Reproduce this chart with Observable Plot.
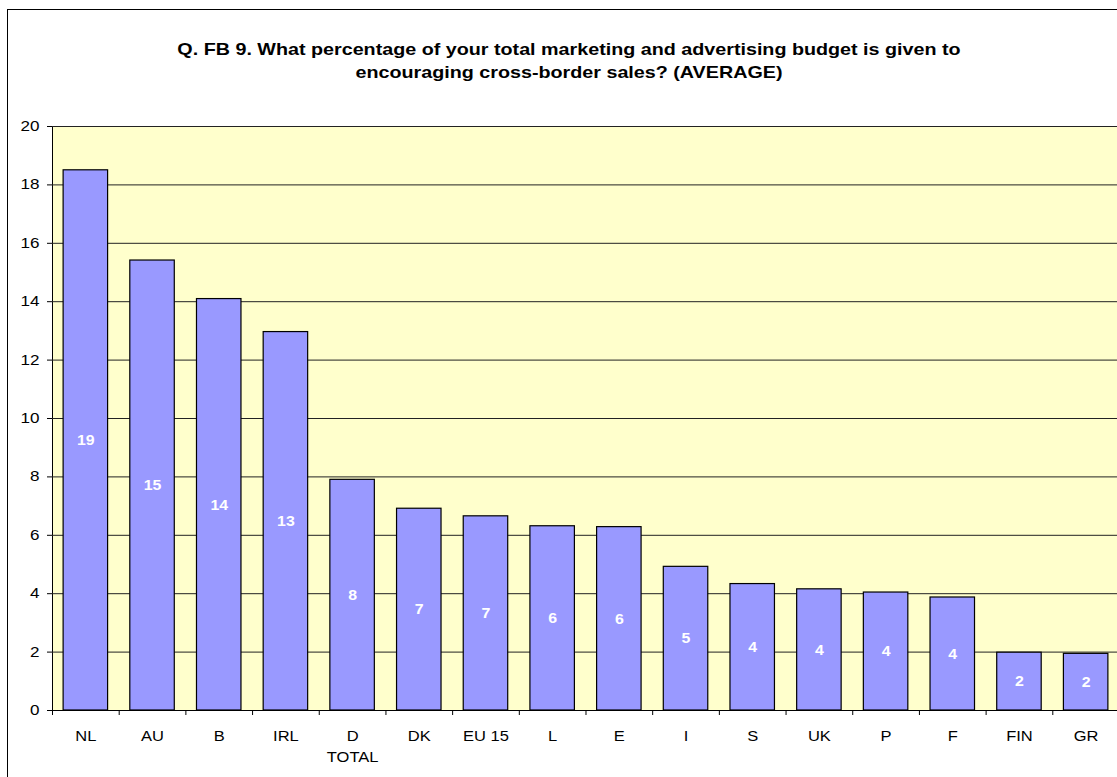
<!DOCTYPE html>
<html>
<head>
<meta charset="utf-8">
<script src="https://cdn.jsdelivr.net/npm/d3@7"></script>
<script src="https://cdn.jsdelivr.net/npm/@observablehq/plot@0.6"></script>
<style>
  html, body { margin: 0; padding: 0; background: #fff; overflow: hidden; width: 1117px; height: 777px; }
  #wrap { position: relative; width: 1117px; height: 777px; overflow: hidden; }
  #border { position: absolute; left: 7px; top: 9px; width: 1200px; height: 900px; border: 1px solid #000; pointer-events: none; box-sizing: border-box; }
  #wrap svg { position: absolute; left: 0; top: 0; }
</style>
</head>
<body>
<div id="wrap"><div id="border"></div></div>
<script>
const categories = ["NL","AU","B","IRL","D","DK","EU 15","L","E","I","S","UK","P","F","FIN","GR"];
const values = [18.5, 15.41, 14.09, 12.96, 7.9, 6.91, 6.65, 6.31, 6.28, 4.92, 4.33, 4.15, 4.04, 3.87, 1.98, 1.94];
const valueLabels = ["19","15","14","13","8","7","7","6","6","5","4","4","4","4","2","2"];
const tickLabels = ["NL","AU","B","IRL","D\nTOTAL","DK","EU 15","L","E","I","S","UK","P","F","FIN","GR"];
const yTicks = [0,2,4,6,8,10,12,14,16,18,20];
const titleText = "Q. FB 9. What percentage of your total marketing and advertising budget is given to\nencouraging cross-border sales? (AVERAGE)";

const data = categories.map((c, i) => ({cat: c, value: values[i], label: valueLabels[i]}));
const labelOf = new Map(categories.map((c, i) => [c, tickLabels[i]]));

const W = 1120, H = 777, ML = 52, MR = 1, MT = 126, MB = 67;
const step = (W - ML - MR) / categories.length;
const font = "'Liberation Sans', Arial, sans-serif";

const chart = Plot.plot({
  width: W,
  height: H,
  marginLeft: ML,
  marginRight: MR,
  marginTop: MT,
  marginBottom: MB,
  style: {fontFamily: font, background: "transparent", overflow: "visible", maxWidth: "none", width: W + "px", height: H + "px"},
  x: {type: "band", domain: categories, paddingInner: 0.333, paddingOuter: 0.1667, round: false, label: null},
  y: {domain: [0, 20], label: null},
  marks: [
    Plot.frame({fill: "#FFFFCC", stroke: "#000", strokeWidth: 1}),
    Plot.gridY(yTicks, {stroke: "#222", strokeOpacity: 1, strokeWidth: 1}),
    Plot.barY(data, {x: "cat", y: "value", fill: "#9999FF", stroke: "#000", strokeWidth: 1.2}),
    Plot.text(data, {x: "cat", y: d => d.value / 2, text: "label", fill: "#fff", fontWeight: "bold", fontSize: 15}),
    Plot.ruleY([0], {stroke: "#000", strokeWidth: 1.2}),
    Plot.axisY({ticks: yTicks, tickSize: 5, tickPadding: 8, fontSize: 14, fill: "#000", stroke: "#000", label: null}),
    Plot.axisX({tickSize: 5, tickFormat: () => "", dx: -step / 2, stroke: "#000", label: null}),
    Plot.axisX({tickSize: 0, tickPadding: 15, fontSize: 15, fill: "#000", lineHeight: 1.43, tickFormat: d => labelOf.get(d), label: null}),
    Plot.text([titleText], {frameAnchor: "top", lineAnchor: "top", dy: -89, dx: -17, fontSize: 17, fontWeight: "bold", lineHeight: 1.41, fill: "#000"})
  ]
});
document.getElementById("wrap").insertBefore(chart, document.getElementById("border"));

// horizontal stretch of the text glyphs about their anchor, as in the reference rendering
function stretch(nodes, sx) {
  nodes.forEach(t => {
    const tr = t.getAttribute("transform");
    if (tr) {
      t.setAttribute("transform", `${tr} scale(${sx},1)`);
    } else {
      const x = parseFloat(t.getAttribute("x"));
      if (!isNaN(x)) {
        t.setAttribute("x", 0);
        t.setAttribute("transform", `translate(${x},0) scale(${sx},1)`);
      }
    }
  });
}
const textGroups = chart.querySelectorAll('g[aria-label="text"]');
stretch(textGroups[0].querySelectorAll("text"), 1.06);
stretch(textGroups[1].querySelectorAll("text"), 1.16);
stretch(chart.querySelectorAll('g[aria-label="y-axis tick label"] text'), 1.22);
stretch(chart.querySelectorAll('g[aria-label="x-axis tick label"] text'), 1.1);
</script>
</body>
</html>
